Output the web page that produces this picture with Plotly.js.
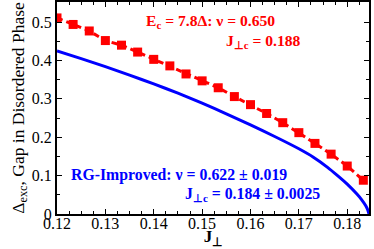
<!DOCTYPE html>
<html>
<head>
<meta charset="utf-8">
<script src="https://cdn.plot.ly/plotly-3.0.1.min.js"></script>
<style>html,body{margin:0;padding:0;background:#fff;}#chart{width:374px;height:249px;}</style>
</head>
<body>
<div id="chart"></div>
<script>
// Red series: E_c = 7.8Δ numerical gap
const redJ = [0.12, 0.12333, 0.12667, 0.13, 0.13333, 0.13667, 0.14, 0.14333, 0.14667, 0.15,
              0.15333, 0.15667, 0.16, 0.16333, 0.16667, 0.17, 0.17333, 0.17667, 0.18, 0.18333];
const redGap = [0.511, 0.494, 0.477, 0.452, 0.440, 0.422, 0.403, 0.386, 0.365, 0.347,
                0.329, 0.306, 0.285, 0.262, 0.238, 0.212, 0.184, 0.156, 0.125, 0.088];
// Blue curve: RG-Improved
const blueJ = [0.12, 0.125, 0.13, 0.135, 0.14, 0.145, 0.15, 0.155, 0.16, 0.165,
               0.17, 0.173, 0.176, 0.178, 0.18, 0.182, 0.183, 0.1838, 0.1842, 0.1845];
const blueGap = [0.425, 0.405, 0.384, 0.362, 0.339, 0.315, 0.289, 0.261, 0.232, 0.202,
                 0.170, 0.148, 0.121, 0.100, 0.078, 0.052, 0.037, 0.022, 0.012, 0.0];

const xTicks = [0.12, 0.13, 0.14, 0.15, 0.16, 0.17, 0.18];
const xTickText = ["0.12", "0.13", "0.14", "0.15", "0.16", "0.17", "0.18"];
const yTicks = [0, 0.1, 0.2, 0.3, 0.4, 0.5];
const yTickText = ["0", "0.1", "0.2", "0.3", "0.4", "0.5"];

const serif = "Liberation Serif, Times New Roman, serif";

const traces = [
  {x: blueJ, y: blueGap, mode: 'lines', type: 'scatter',
   line: {color: '#0000ff', width: 3, shape: 'spline', smoothing: 0.5}, hoverinfo: 'skip'},
  {x: redJ, y: redGap, mode: 'lines+markers', type: 'scatter',
   line: {color: '#ff0000', width: 3, dash: '6px,4px'},
   marker: {symbol: 'square', size: 9, color: '#ff0000'}, hoverinfo: 'skip'}
];

const axisCommon = {
  showline: true, linecolor: 'black', linewidth: 2, mirror: 'allticks',
  ticks: 'inside', ticklen: 5, tickwidth: 1, tickcolor: 'black',
  showgrid: false, zeroline: false,
  tickfont: {family: serif, size: 16, color: 'black'}
};

const layout = {
  width: 374, height: 249,
  margin: {l: 57, r: 5, t: 2, b: 35},
  paper_bgcolor: 'white', plot_bgcolor: 'white',
  showlegend: false,
  xaxis: Object.assign({}, axisCommon, {
    range: [0.12, 0.1845], tickvals: xTicks, ticktext: xTickText,
    ticklabelstandoff: -6,
    minor: {dtick: 0.0025, tick0: 0.12, ticks: 'inside', ticklen: 3, tickcolor: 'black', showgrid: false},
    title: {text: '<b>J<sub>⊥</sub></b>', font: {family: serif, size: 17, color: 'black'}, standoff: 3}
  }),
  yaxis: Object.assign({}, axisCommon, {
    range: [0, 0.5525], tickvals: yTicks, ticktext: yTickText,
    minor: {dtick: 0.05, tick0: 0, ticks: 'inside', ticklen: 3, tickcolor: 'black', showgrid: false},
    title: {text: 'Δ<sub>exc</sub>, Gap in Disordered Phase', font: {family: serif, size: 17.5, color: 'black'}, standoff: 3}
  }),
  annotations: [
    {xref: 'paper', yref: 'paper', x: (144 - 57) / 312, y: (214 - 22) / 212, xanchor: 'left', yanchor: 'middle',
     text: '<b>E<sub>c</sub> = 7.8Δ: ν = 0.650</b>', showarrow: false,
     font: {family: serif, size: 15.6, color: '#ff0000'}},
    {xref: 'paper', yref: 'paper', x: (224 - 57) / 312, y: (214 - 41) / 212, xanchor: 'left', yanchor: 'middle',
     text: '<b>J<sub>⊥c</sub> = 0.188</b>', showarrow: false,
     font: {family: serif, size: 15.6, color: '#ff0000'}},
    {xref: 'paper', yref: 'paper', x: (69 - 57) / 312, y: (214 - 175) / 212, xanchor: 'left', yanchor: 'middle',
     text: '<b>RG-Improved: ν = 0.622 ± 0.019</b>', showarrow: false,
     font: {family: serif, size: 15.8, color: '#0000ff'}},
    {xref: 'paper', yref: 'paper', x: (183 - 57) / 312, y: (214 - 194) / 212, xanchor: 'left', yanchor: 'middle',
     text: '<b>J<sub>⊥c</sub> = 0.184 ± 0.0025</b>', showarrow: false,
     font: {family: serif, size: 15.8, color: '#0000ff'}}
  ]
};

Plotly.newPlot('chart', traces, layout, {staticPlot: true, displayModeBar: false});
</script>
</body>
</html>
